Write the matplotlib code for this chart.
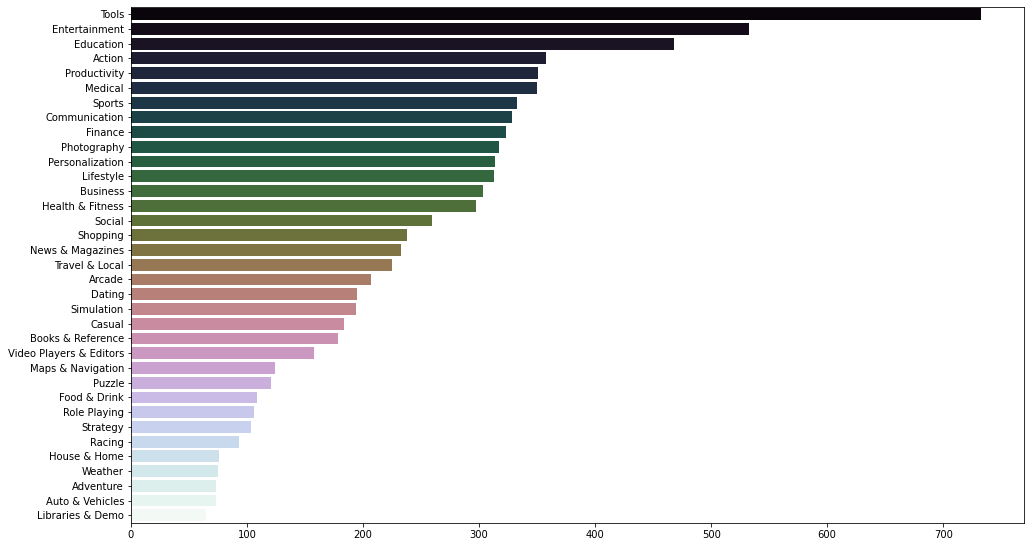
import colorsys
import numpy as np
import matplotlib
matplotlib.use("Agg")
import matplotlib.pyplot as plt

# category counts
categories = [
    "Tools", "Entertainment", "Education", "Action", "Productivity", "Medical",
    "Sports", "Communication", "Finance", "Photography", "Personalization",
    "Lifestyle", "Business", "Health & Fitness", "Social", "Shopping",
    "News & Magazines", "Travel & Local", "Arcade", "Dating", "Simulation",
    "Casual", "Books & Reference", "Video Players & Editors", "Maps & Navigation",
    "Puzzle", "Food & Drink", "Role Playing", "Strategy", "Racing",
    "House & Home", "Weather", "Adventure", "Auto & Vehicles", "Libraries & Demo",
]
counts = [
    733, 533, 468, 358, 351, 350,
    333, 328, 323, 317, 314,
    313, 303, 297, 259, 238,
    233, 225, 207, 195, 194,
    184, 178, 158, 124,
    121, 109, 106, 103, 93,
    76, 75, 73, 73, 65,
]

DPI = 72
fig = plt.figure(figsize=(1030 / DPI, 547 / DPI), dpi=DPI)
ax = fig.add_axes([131 / 1030, 24.3 / 547, (1024 - 131) / 1030, (540.2 - 24.3) / 547])

n = len(categories)
cmap = plt.get_cmap("cubehelix")
raw = cmap(np.linspace(0, 1, n + 2)[1:-1])

# tone colours down a bit, like seaborn's default saturation=0.75
colors = []
for r, g, b, _ in raw:
    h, l, s = colorsys.rgb_to_hls(r, g, b)
    colors.append(colorsys.hls_to_rgb(h, l, s * 0.75))

y = np.arange(n)
ax.barh(y, counts, height=0.8, color=colors)
ax.set_yticks(y)
ax.set_yticklabels(categories)
ax.set_ylim(n - 0.5, -0.5)
ax.set_xlim(0, max(counts) * 1.05)
ax.set_xticks([0, 100, 200, 300, 400, 500, 600, 700])
ax.tick_params(labelsize=10, length=3.5)

fig.savefig("out.png", dpi=DPI)
